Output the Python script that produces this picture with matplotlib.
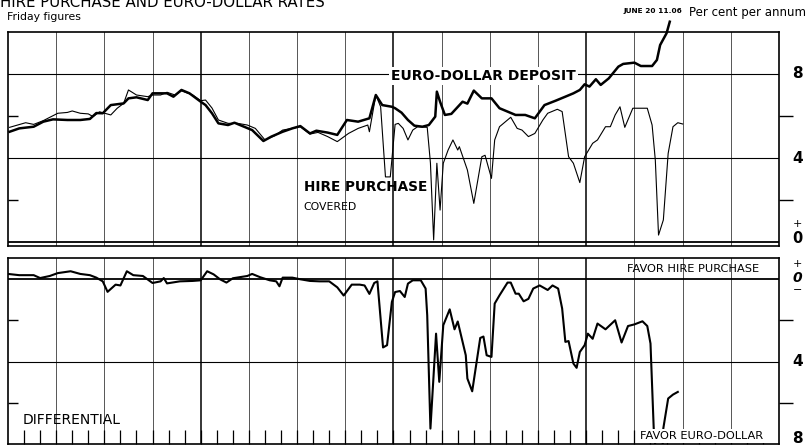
import matplotlib.pyplot as plt

# x = months from the left edge of the chart (4 years, 48 months)
euro_x = [0.1, 0.7, 1.6, 2.2, 2.8, 3.7, 4.5, 5.1, 5.5, 5.9, 6.4, 7.2, 7.5, 8.0, 8.7, 9.0, 9.5, 9.9,
          10.3, 10.8, 11.3, 12.0, 12.3, 12.7, 13.1, 13.7, 14.1, 14.6, 15.2, 15.9, 16.4, 17.1, 17.7,
          18.2, 18.8, 19.2, 19.9, 20.5, 21.1, 21.8, 22.5, 22.9, 23.3, 23.9, 24.1, 24.5, 24.9, 25.3,
          25.8, 26.2, 26.6, 26.7, 26.9, 27.2, 27.6, 28.3, 28.6, 29.0, 29.5, 30.1, 30.6, 31.6, 32.2,
          32.8, 33.4, 34.1, 34.7, 35.2, 35.6, 35.9, 36.2, 36.6, 36.9, 37.4, 38.0, 38.3, 39.0, 39.4,
          40.1, 40.4, 40.6, 41.0, 41.2]
euro_rate = [5.25, 5.41, 5.49, 5.73, 5.84, 5.81, 5.81, 5.86, 6.14, 6.13, 6.52, 6.60, 6.84, 6.89,
             6.76, 7.08, 7.08, 7.08, 6.92, 7.24, 7.08, 6.68, 6.52, 6.13, 5.65, 5.57, 5.68, 5.52,
             5.33, 4.81, 5.02, 5.25, 5.41, 5.52, 5.17, 5.30, 5.21, 5.10, 5.81, 5.73, 5.89, 7.00,
             6.52, 6.44, 6.37, 6.16, 5.81, 5.54, 5.49, 5.57, 5.97, 7.16, 6.68, 6.05, 6.10, 6.68,
             6.59, 7.21, 6.84, 6.84, 6.37, 6.05, 6.05, 5.89, 6.52, 6.73, 6.92, 7.08, 7.24, 7.51,
             7.40, 7.75, 7.48, 7.79, 8.35, 8.48, 8.54, 8.38, 8.38, 8.67, 9.38, 9.94, 10.49]

hire_x = [0.1, 1.1, 1.6, 2.2, 3.1, 3.7, 4.0, 4.5, 5.0, 5.3, 5.7, 6.4, 6.8, 7.2, 7.5, 8.0, 8.7, 9.0,
          9.5, 9.9, 10.4, 10.8, 11.5, 12.0, 12.3, 12.7, 13.1, 13.7, 14.3, 14.9, 15.4, 16.0, 16.6,
          17.1, 17.9, 18.2, 18.8, 19.3, 19.9, 20.5, 21.2, 21.8, 22.4, 22.5, 22.9, 23.2, 23.5, 23.8,
          24.1, 24.3, 24.6, 24.9, 25.2, 25.5, 26.1, 26.3, 26.5, 26.7, 26.9, 27.1, 27.4, 27.7, 28.0,
          28.1, 28.6, 29.0, 29.5, 29.7, 30.1, 30.3, 30.6, 31.3, 31.7, 32.0, 32.4, 32.8, 33.3, 33.6,
          34.2, 34.5, 34.9, 35.2, 35.6, 35.9, 36.4, 36.7, 37.2, 37.5, 37.8, 38.1, 38.4, 38.9, 39.8,
          40.1, 40.3, 40.5, 40.8, 41.1, 41.4, 41.7, 42.0]
hire_rate = [5.46, 5.68, 5.60, 5.78, 6.13, 6.17, 6.24, 6.13, 6.10, 5.97, 6.20, 6.05, 6.37, 6.60,
             7.24, 7.00, 6.92, 7.00, 7.00, 7.13, 7.00, 7.20, 7.00, 6.73, 6.76, 6.38, 5.81, 5.65,
             5.65, 5.57, 5.41, 4.86, 5.06, 5.33, 5.44, 5.49, 5.14, 5.22, 5.02, 4.78, 5.17, 5.41,
             5.57, 5.25, 7.00, 6.44, 3.10, 3.10, 5.60, 5.65, 5.41, 4.86, 5.33, 5.49, 5.46, 3.76,
             0.10, 3.75, 1.52, 3.75, 4.38, 4.86, 4.38, 4.54, 3.43, 1.84, 4.06, 4.13, 3.03, 4.86,
             5.49, 5.94, 5.41, 5.33, 5.02, 5.17, 5.81, 6.13, 6.32, 6.21, 4.06, 3.75, 2.83, 4.06,
             4.70, 4.86, 5.49, 5.49, 6.05, 6.44, 5.46, 6.37, 6.37, 5.57, 3.90, 0.33, 1.05, 4.22,
             5.49, 5.68, 5.62]

# differential: + favours hire purchase, - favours euro-dollar
diff_x = [0.0, 0.7, 1.6, 2.0, 2.6, 3.1, 3.9, 4.5, 5.1, 5.5, 5.9, 6.2, 6.7, 7.0, 7.4, 7.8, 8.4, 9.0,
          9.5, 9.7, 9.9, 10.7, 11.5, 12.0, 12.4, 12.8, 13.2, 13.6, 14.0, 14.9, 15.2, 15.7, 16.3,
          16.7, 16.9, 17.1, 17.7, 18.2, 18.8, 19.4, 20.0, 20.5, 20.9, 21.4, 21.9, 22.2, 22.5, 22.8,
          23.0, 23.35, 23.6, 23.9, 24.1, 24.4, 24.7, 24.9, 25.2, 25.7, 26.0, 26.1, 26.3, 26.65,
          26.85, 27.1, 27.5, 27.8, 28.0, 28.5, 28.6, 28.9, 29.4, 29.6, 29.8, 30.1, 30.3, 30.6,
          31.1, 31.3, 31.6, 31.8, 32.1, 32.4, 32.7, 33.1, 33.6, 33.9, 34.25, 34.5, 34.7, 34.9,
          35.2, 35.4, 35.6, 35.9, 36.1, 36.4, 36.7, 37.2, 37.8, 38.2, 38.6, 39.0, 39.5, 39.8,
          40.0, 40.2, 40.4, 40.7, 40.8, 41.1, 41.4, 41.7]
diff_val = [0.26, 0.20, 0.20, 0.06, 0.16, 0.30, 0.39, 0.26, 0.20, 0.08, -0.10, -0.61, -0.26, -0.30,
            0.39, 0.20, 0.16, -0.18, -0.10, 0.06, -0.20, -0.10, -0.08, -0.05, 0.39, 0.24, 0.00,
            -0.16, 0.05, 0.16, 0.26, 0.10, -0.05, -0.10, -0.34, 0.08, 0.08, 0.00, -0.08, -0.10,
            -0.10, -0.39, -0.79, -0.26, -0.26, -0.30, -0.71, -0.18, -0.10, -3.31, -3.20, -1.10,
            -0.62, -0.57, -0.86, -0.21, -0.05, -0.05, -0.45, -1.75, -7.25, -2.64, -4.98, -2.23,
            -1.46, -2.43, -2.05, -3.69, -4.82, -5.44, -2.85, -2.78, -3.69, -3.77, -1.18, -0.78,
            -0.16, -0.16, -0.70, -0.70, -1.07, -0.95, -0.45, -0.30, -0.52, -0.30, -0.45, -1.42,
            -3.04, -3.00, -4.09, -4.30, -3.53, -3.20, -2.64, -2.89, -2.15, -2.43, -1.99, -3.07,
            -2.27, -2.19, -2.04, -2.27, -3.12, -7.23, -9.00, -9.00, -7.23, -5.79, -5.60, -5.47]

quarters = [3, 6, 9, 15, 18, 21, 27, 30, 33, 39, 42, 45]
years = [12, 24, 36]

plt.rcParams['font.family'] = ['DejaVu Sans']

fig = plt.figure(figsize=(8.06, 4.45), dpi=100)
ax1 = fig.add_axes([0.0099, 0.4472, 0.9566, 0.4809])
ax2 = fig.add_axes([0.0099, 0.0022, 0.9566, 0.4174])


def frame(ax):
    for s in ax.spines.values():
        s.set_linewidth(1.2)
    for q in quarters:
        ax.axvline(q, color='#555555', lw=0.7, zorder=1)
    for yr in years:
        ax.axvline(yr, color='black', lw=1.1, zorder=1)
    ax.set_xlim(0, 48)


# ---------- top panel: rates ----------
frame(ax1)
ax1.set_ylim(-0.19, 10)
ax1.axhline(0, color='black', lw=1.3)
for g in (4, 8):
    ax1.axhline(g, color='black', lw=0.8, zorder=1)
ax1.plot(hire_x, hire_rate, color='black', lw=0.8, zorder=3)
ax1.plot(euro_x, euro_rate, color='black', lw=1.8, zorder=4, clip_on=False)
ax1.set_xticks([])
ax1.set_yticks([2, 6])
ax1.set_yticks([2, 6], minor=True)
ax1.yaxis.remove_overlapping_locs = False
ax1.set_yticklabels([])
ax1.tick_params(axis='y', which='major', left=False, right=True, direction='out',
                length=10, width=1)
ax1.tick_params(axis='y', which='minor', left=True, right=False, direction='in',
                length=7, width=1)

tr1 = ax1.get_yaxis_transform()
ax1.text(1.024, 8, '8', transform=tr1, ha='center', va='center', fontsize=11,
         fontweight='bold', clip_on=False)
ax1.text(1.024, 4, '4', transform=tr1, ha='center', va='center', fontsize=11,
         fontweight='bold', clip_on=False)
ax1.text(1.024, 0.85, '+', transform=tr1, ha='center', va='center', fontsize=8, clip_on=False)
ax1.text(1.024, 0.15, '0', transform=tr1, ha='center', va='center', fontsize=10.5,
         fontweight='bold', clip_on=False)

ax1.text(29.6, 7.9, 'EURO-DOLLAR DEPOSIT', ha='center', va='center', fontsize=10,
         fontweight='bold', zorder=5,
         bbox=dict(facecolor='white', edgecolor='none', pad=1.5))
ax1.text(18.4, 2.62, 'HIRE PURCHASE', ha='left', va='center', fontsize=9.8,
         fontweight='bold', zorder=5)
ax1.text(18.4, 1.67, 'COVERED', ha='left', va='center', fontsize=7.8, zorder=5)

# ---------- bottom panel: differential ----------
frame(ax2)
ax2.set_ylim(-8, 1.02)
ax2.axhline(0, color='black', lw=1.3)
ax2.axhline(-4, color='black', lw=0.8, zorder=1)
ax2.plot(diff_x, diff_val, color='black', lw=1.5, zorder=3)
ax2.set_xticks(range(1, 48))
ax2.set_xticklabels([])
ax2.tick_params(axis='x', direction='in', length=10, width=0.9, top=False)
ax2.set_yticks([-2, -6])
ax2.set_yticks([-2, -6], minor=True)
ax2.yaxis.remove_overlapping_locs = False
ax2.set_yticklabels([])
ax2.tick_params(axis='y', which='major', left=False, right=True, direction='out',
                length=10, width=1)
ax2.tick_params(axis='y', which='minor', left=True, right=False, direction='in',
                length=7, width=1)

tr2 = ax2.get_yaxis_transform()
ax2.text(1.024, 0.72, '+', transform=tr2, ha='center', va='center', fontsize=8, clip_on=False)
ax2.text(1.024, 0.08, '0', transform=tr2, ha='center', va='center', fontsize=10,
         fontweight='bold', fontstyle='italic', clip_on=False)
ax2.text(1.024, -0.5, '\u2212', transform=tr2, ha='center', va='center', fontsize=8,
         clip_on=False)
ax2.text(1.024, -4, '4', transform=tr2, ha='center', va='center', fontsize=11,
         fontweight='bold', clip_on=False)
ax2.text(1.024, -7.72, '8', transform=tr2, ha='center', va='center', fontsize=11,
         fontweight='bold', clip_on=False)

ax2.text(0.93, -6.83, 'DIFFERENTIAL', ha='left', va='center', fontsize=10, zorder=5)
ax2.text(42.65, 0.52, 'FAVOR HIRE PURCHASE', ha='center', va='center', fontsize=8.2, zorder=5)
ax2.text(43.15, -7.62, 'FAVOR EURO-DOLLAR', ha='center', va='center', fontsize=8.2, zorder=5,
         bbox=dict(facecolor='white', edgecolor='none', pad=1.5))

# ---------- headings ----------
fig.text(0.0, 0.9836, 'HIRE PURCHASE AND EURO-DOLLAR RATES', ha='left', va='baseline',
         fontsize=10.8)
fig.text(0.009, 0.955, 'Friday figures', ha='left', va='baseline', fontsize=7.8)
fig.text(0.8545, 0.965, 'Per cent per annum', ha='left', va='baseline', fontsize=8.5)
fig.text(0.8462, 0.971, 'JUNE 20 11.06', ha='right', va='baseline', fontsize=5.3,
         fontweight='bold')

fig.savefig('out.png', dpi=100)
